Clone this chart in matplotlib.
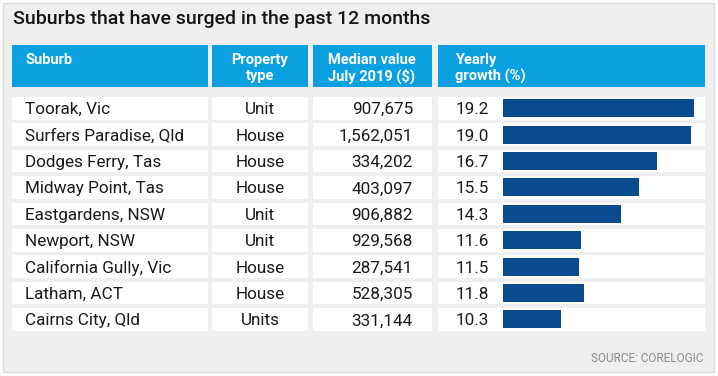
import matplotlib
matplotlib.use('Agg')
import matplotlib.pyplot as plt
from matplotlib.patches import Rectangle

# data
suburbs = ['Toorak, Vic', 'Surfers Paradise, Qld', 'Dodges Ferry, Tas', 'Midway Point, Tas',
           'Eastgardens, NSW', 'Newport, NSW', 'California Gully, Vic', 'Latham, ACT',
           'Cairns City, Qld']
prop_type = ['Unit', 'House', 'House', 'House', 'Unit', 'Unit', 'House', 'House', 'Units']
median_value = [907675, 1562051, 334202, 403097, 906882, 929568, 287541, 528305, 331144]
growth = [19.2, 19.0, 16.7, 15.5, 14.3, 11.6, 11.5, 11.8, 10.3]
headers = ['Suburb', 'Property\ntype', 'Median value\nJuly 2019 ($)', 'Yearly\ngrowth (%)']

fnt = 'Roboto'

W, H = 718, 376
fig = plt.figure(figsize=(W/100, H/100), dpi=100)
fig.patch.set_facecolor('white')
ax = fig.add_axes([0, 0, 1, 1])
ax.set_xlim(0, W)
ax.set_ylim(H, 0)
ax.axis('off')

ax.add_patch(Rectangle((3, 3), 711, 369, facecolor='#efefef', edgecolor='#dcdcdc', lw=1))
ax.text(13, 19, 'Suburbs that have surged in the past 12 months', family=fnt,
        fontweight='medium', fontsize=14, color='#151515', va='center', ha='left')

blue = '#0ba0e0'
cols = [(12, 208), (212, 308), (313, 432), (438, 705)]
for (x0, x1) in cols:
    ax.add_patch(Rectangle((x0, 45), x1 - x0, 42, facecolor=blue, lw=0))
hx = [(25, 'left'), (260, 'center'), (372, 'center'), (455, 'left')]
for (x, ha), h in zip(hx, headers):
    ax.text(x, 53, h, family=fnt, fontweight='bold', fontsize=10.5, color='white',
            ha=ha, va='top', linespacing=1.15, multialignment=ha)

row0, pitch, rh = 97, 26.4, 22.5
for i in range(len(suburbs)):
    y = row0 + pitch * i
    for (x0, x1) in cols:
        ax.add_patch(Rectangle((x0, y), x1 - x0, rh, facecolor='white', lw=0))
    yc = y + rh / 2 + 1.5
    kw = dict(family=fnt, fontsize=12.3, color='#1a1a1a', va='center')
    ax.text(25, yc, suburbs[i], ha='left', **kw)
    ax.text(260, yc, prop_type[i], ha='center', **kw)
    ax.text(413, yc, f'{median_value[i]:,}', ha='right', **kw)
    ax.text(489, yc, f'{growth[i]:.1f}', ha='right', **kw)

ax.text(703, 359, 'SOURCE: CORELOGIC', family=fnt, fontsize=8.5, color='#8a8a8a',
        ha='right', va='center')

# bars
top = row0 + rh / 2 - pitch / 2
bax = fig.add_axes([503 / W, 1 - (top + pitch * 9) / H, (706 - 503) / W, pitch * 9 / H])
bax.barh(range(len(growth)), growth, height=18 / pitch, color='#0a4a8e', left=0)
bax.set_xlim(6.4, 20)
bax.set_ylim(len(growth) - 0.5, -0.5)
bax.axis('off')
bax.patch.set_alpha(0)

fig.savefig('out.png', dpi=100)
